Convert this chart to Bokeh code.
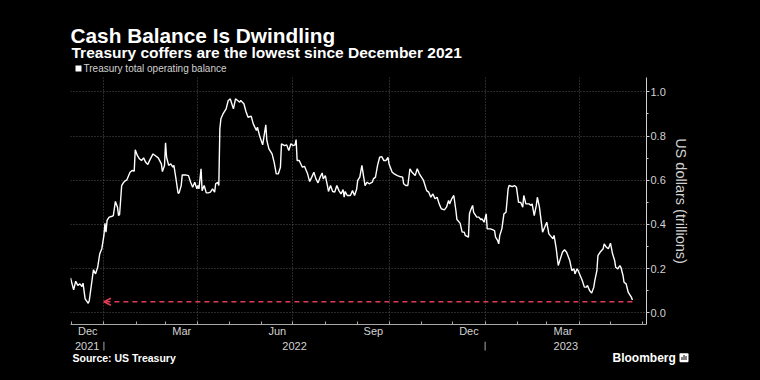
import numpy as np
import pandas as pd
from bokeh.plotting import figure
from bokeh.core.properties import value
from bokeh.models import (ColumnDataSource, Range1d, FixedTicker, SingleIntervalTicker,
                          Label, Arrow, OpenHead, BoxAnnotation, CustomJSTickFormatter,
                          PrintfTickFormatter, Grid)
from bokeh.embed import file_html
from bokeh.resources import INLINE

TITLE = "Cash Balance Is Dwindling"
SUBTITLE = "Treasury coffers are the lowest since December 2021"
SERIES_NAME = "Treasury total operating balance"
Y_AXIS_LABEL = "US dollars (trillions)"
SOURCE = "Source: US Treasury"
BRAND = "Bloomberg"

DATES = [
    "2021-11-30", "2021-12-03", "2021-12-05", "2021-12-07", "2021-12-09", "2021-12-11", "2021-12-12",
    "2021-12-14", "2021-12-17", "2021-12-18", "2021-12-21", "2021-12-22", "2021-12-24", "2021-12-26",
    "2021-12-28", "2021-12-30", "2022-01-01", "2022-01-02", "2022-01-03", "2022-01-04", "2022-01-06",
    "2022-01-09", "2022-01-10", "2022-01-12", "2022-01-14", "2022-01-15", "2022-01-16", "2022-01-18",
    "2022-01-20", "2022-01-21", "2022-01-23", "2022-01-26", "2022-01-28", "2022-01-30", "2022-01-31",
    "2022-02-02", "2022-02-04", "2022-02-06", "2022-02-08", "2022-02-10", "2022-02-12", "2022-02-14",
    "2022-02-17", "2022-02-19", "2022-02-22", "2022-02-25", "2022-02-26", "2022-02-28", "2022-03-01",
    "2022-03-02", "2022-03-04", "2022-03-06", "2022-03-08", "2022-03-09", "2022-03-11", "2022-03-13",
    "2022-03-14", "2022-03-16", "2022-03-17", "2022-03-20", "2022-03-23", "2022-03-25", "2022-03-27",
    "2022-03-29", "2022-03-31", "2022-04-01", "2022-04-02", "2022-04-04", "2022-04-05", "2022-04-07",
    "2022-04-09", "2022-04-11", "2022-04-13", "2022-04-15", "2022-04-17", "2022-04-18", "2022-04-20",
    "2022-04-21", "2022-04-22", "2022-04-23", "2022-04-25", "2022-04-28", "2022-04-30", "2022-05-02",
    "2022-05-03", "2022-05-05", "2022-05-07", "2022-05-09", "2022-05-11", "2022-05-12", "2022-05-15",
    "2022-05-17", "2022-05-19", "2022-05-22", "2022-05-24", "2022-05-27", "2022-05-28", "2022-05-30",
    "2022-06-02", "2022-06-05", "2022-06-06", "2022-06-08", "2022-06-11", "2022-06-13", "2022-06-15",
    "2022-06-17", "2022-06-19", "2022-06-20", "2022-06-23", "2022-06-25", "2022-06-27", "2022-06-29",
    "2022-07-01", "2022-07-03", "2022-07-04", "2022-07-05", "2022-07-07", "2022-07-10", "2022-07-12",
    "2022-07-15", "2022-07-17", "2022-07-19", "2022-07-21", "2022-07-23", "2022-07-25", "2022-07-27",
    "2022-07-29", "2022-07-30", "2022-08-01", "2022-08-03", "2022-08-04", "2022-08-06", "2022-08-08",
    "2022-08-10", "2022-08-12", "2022-08-14", "2022-08-16", "2022-08-18", "2022-08-19", "2022-08-20",
    "2022-08-22", "2022-08-25", "2022-08-27", "2022-08-29", "2022-08-31", "2022-09-01", "2022-09-03",
    "2022-09-05", "2022-09-07", "2022-09-08", "2022-09-10", "2022-09-12", "2022-09-15", "2022-09-16",
    "2022-09-18", "2022-09-20", "2022-09-22", "2022-09-24", "2022-09-26", "2022-09-28", "2022-09-30",
    "2022-10-01", "2022-10-04", "2022-10-06", "2022-10-09", "2022-10-11", "2022-10-14", "2022-10-15",
    "2022-10-17", "2022-10-19", "2022-10-21", "2022-10-23", "2022-10-26", "2022-10-28", "2022-10-30",
    "2022-11-01", "2022-11-03", "2022-11-06", "2022-11-08", "2022-11-10", "2022-11-12", "2022-11-14",
    "2022-11-16", "2022-11-18", "2022-11-20", "2022-11-23", "2022-11-25", "2022-11-27", "2022-11-28",
    "2022-11-30", "2022-12-02", "2022-12-04", "2022-12-05", "2022-12-08", "2022-12-10", "2022-12-12",
    "2022-12-13", "2022-12-16", "2022-12-17", "2022-12-18", "2022-12-20", "2022-12-21", "2022-12-24",
    "2022-12-26", "2022-12-28", "2022-12-29", "2022-12-31", "2023-01-02", "2023-01-03", "2023-01-06",
    "2023-01-08", "2023-01-10", "2023-01-11", "2023-01-13", "2023-01-14", "2023-01-15", "2023-01-17",
    "2023-01-19", "2023-01-21", "2023-01-23", "2023-01-24", "2023-01-27", "2023-01-29", "2023-01-31",
    "2023-02-02", "2023-02-04", "2023-02-06", "2023-02-07", "2023-02-09", "2023-02-12", "2023-02-14",
    "2023-02-15", "2023-02-17", "2023-02-19", "2023-02-20", "2023-02-22", "2023-02-23", "2023-02-25",
    "2023-02-27", "2023-03-01", "2023-03-03", "2023-03-05", "2023-03-07", "2023-03-08", "2023-03-10",
    "2023-03-12", "2023-03-14", "2023-03-16", "2023-03-18", "2023-03-20", "2023-03-23", "2023-03-25",
    "2023-03-27", "2023-03-28", "2023-03-30", "2023-03-31", "2023-04-02", "2023-04-04", "2023-04-06",
    "2023-04-08", "2023-04-09", "2023-04-11", "2023-04-13", "2023-04-15", "2023-04-16", "2023-04-18",
    "2023-04-19", "2023-04-21", "2023-04-24", "2023-04-25", "2023-04-27", "2023-04-29", "2023-05-01",
    "2023-05-03", "2023-05-05", "2023-05-06", "2023-05-08", "2023-05-10", "2023-05-11", "2023-05-13",
    "2023-05-14", "2023-05-16", "2023-05-18", "2023-05-19", "2023-05-21", "2023-05-22",
]

BALANCE = [
    0.158, 0.104, 0.143, 0.124, 0.131, 0.119, 0.134,
    0.063, 0.043, 0.056, 0.161, 0.195, 0.176, 0.206,
    0.267, 0.290, 0.350, 0.405, 0.365, 0.418, 0.433,
    0.437, 0.440, 0.504, 0.478, 0.440, 0.445, 0.576,
    0.591, 0.596, 0.602, 0.636, 0.644, 0.641, 0.738,
    0.712, 0.697, 0.689, 0.701, 0.681, 0.671, 0.692,
    0.719, 0.712, 0.701, 0.674, 0.639, 0.667, 0.769,
    0.704, 0.667, 0.674, 0.659, 0.667, 0.606, 0.541,
    0.543, 0.576, 0.624, 0.624, 0.621, 0.591, 0.568,
    0.591, 0.561, 0.576, 0.561, 0.652, 0.553, 0.576,
    0.543, 0.543, 0.546, 0.561, 0.546, 0.584, 0.591,
    0.576, 0.833, 0.878, 0.900, 0.923, 0.961, 0.968,
    0.953, 0.923, 0.968, 0.961, 0.953, 0.961, 0.946,
    0.911, 0.885, 0.890, 0.855, 0.825, 0.840, 0.802,
    0.760, 0.851, 0.780, 0.742, 0.719, 0.681, 0.629,
    0.629, 0.659, 0.765, 0.757, 0.760, 0.734, 0.765,
    0.757, 0.760, 0.784, 0.689, 0.689, 0.659, 0.663,
    0.629, 0.594, 0.614, 0.636, 0.606, 0.588, 0.614,
    0.633, 0.606, 0.621, 0.576, 0.549, 0.576, 0.549,
    0.546, 0.576, 0.553, 0.538, 0.558, 0.523, 0.549,
    0.531, 0.531, 0.553, 0.531, 0.560, 0.599, 0.614,
    0.667, 0.606, 0.576, 0.591, 0.584, 0.591, 0.606,
    0.614, 0.667, 0.704, 0.707, 0.689, 0.689, 0.704,
    0.674, 0.636, 0.629, 0.621, 0.617, 0.614, 0.584,
    0.576, 0.576, 0.652, 0.636, 0.621, 0.652, 0.629,
    0.614, 0.599, 0.553, 0.546, 0.523, 0.538, 0.516,
    0.523, 0.493, 0.471, 0.466, 0.478, 0.508, 0.493,
    0.516, 0.531, 0.463, 0.422, 0.406, 0.365, 0.365,
    0.350, 0.342, 0.448, 0.463, 0.486, 0.455, 0.433,
    0.433, 0.421, 0.425, 0.410, 0.448, 0.380, 0.380,
    0.376, 0.372, 0.342, 0.327, 0.312, 0.350, 0.380,
    0.448, 0.455, 0.561, 0.576, 0.571, 0.576, 0.568,
    0.500, 0.500, 0.478, 0.531, 0.493, 0.493, 0.486,
    0.493, 0.440, 0.486, 0.523, 0.478, 0.440, 0.365,
    0.387, 0.410, 0.357, 0.346, 0.335, 0.350, 0.293,
    0.214, 0.244, 0.274, 0.285, 0.274, 0.237, 0.191,
    0.199, 0.176, 0.199, 0.191, 0.169, 0.146, 0.116,
    0.116, 0.124, 0.101, 0.089, 0.116, 0.146, 0.191,
    0.259, 0.274, 0.290, 0.312, 0.297, 0.290, 0.315,
    0.267, 0.237, 0.206, 0.199, 0.214, 0.206, 0.169,
    0.138, 0.131, 0.093, 0.086, 0.071, 0.058,
]

X_TICK_MONTHS = ["2021-12", "2022-03", "2022-06", "2022-09", "2022-12", "2023-03"]
X_TICK_LABELS = ["Dec", "Mar", "Jun", "Sep", "Dec", "Mar"]
YEAR_LABELS = ["2021", "2022", "2023"]

REF_LEVEL = 0.05
REF_FROM = "2023-05-22"
REF_TO = "2022-01-01"

# ---------------------------------------------------------------- style / layout
FONT = "Liberation Sans"
BG = "#000000"
AXIS_COLOR = "#a8a8a8"
TEXT_COLOR = "#d2d2d2"
GRID_COLOR = "#555555"
RED = "#e23b55"
W = 760
HEAD_H, MAIN_H, FOOT_H = 77, 264, 39
LEFT, RIGHT, BOTTOM = 70, 114, 17


def ms(t):
    return float(pd.Timestamp(t).value / 1e6)


def blank(height, x_range, y_range):
    f = figure(width=W, height=height, output_backend="svg", toolbar_location=None,
               background_fill_color=BG, border_fill_color=BG, outline_line_color=None,
               min_border=0, x_range=x_range, y_range=y_range,
               x_axis_location=None, y_axis_location=None)
    f.renderers = [r for r in f.renderers if not isinstance(r, Grid)]
    f.center = [r for r in f.center if not isinstance(r, Grid)]
    return f


dates = pd.to_datetime(DATES)
src = ColumnDataSource(data=dict(date=dates, balance=BALANCE))

x_start = dates[0]
x_end = dates[-1] + pd.Timedelta(days=13.5)

# ================================================================ main chart
p = figure(width=W, height=MAIN_H, x_axis_type="datetime", y_axis_location="right",
           output_backend="svg", toolbar_location=None,
           background_fill_color=BG, border_fill_color=BG, outline_line_color=None,
           min_border_left=LEFT, min_border_right=RIGHT, min_border_top=0,
           min_border_bottom=BOTTOM,
           x_range=Range1d(x_start, x_end), y_range=Range1d(-0.053, 1.065))

month_mid = []
for m in X_TICK_MONTHS:
    s = pd.Timestamp(m + "-01")
    e = s + pd.offsets.MonthBegin(1)
    month_mid.append(ms(s + (e - s) / 2))
month_starts = [ms(t) for t in pd.date_range(x_start.normalize(), x_end, freq="MS")]
quarter_starts = [ms(t) for t in pd.date_range(x_start.normalize(), x_end, freq="QS")]
year_starts = [ms(t) for t in pd.date_range(x_start.normalize(), x_end, freq="YS")]

xax = p.xaxis[0]
xax.ticker = FixedTicker(ticks=month_mid, minor_ticks=month_starts)
xax.formatter = CustomJSTickFormatter(args=dict(tpos=month_mid, tlabels=X_TICK_LABELS), code="""
    let best = -1, bd = Infinity;
    for (let i = 0; i < tpos.length; i++) {
        const d = Math.abs(tpos[i] - tick);
        if (d < bd) { bd = d; best = i; }
    }
    return bd < 86400000 ? tlabels[best] : "";
""")
xax.axis_line_color = AXIS_COLOR
xax.major_tick_line_color = None
xax.major_tick_in = 0
xax.major_tick_out = 0
xax.minor_tick_line_color = AXIS_COLOR
xax.minor_tick_in = 3
xax.minor_tick_out = 0
xax.major_label_text_font = FONT
xax.major_label_text_font_size = "11px"
xax.major_label_text_color = TEXT_COLOR
xax.major_label_standoff = 0
xax.axis_label_standoff = 0

p.xgrid.ticker = FixedTicker(ticks=quarter_starts)
p.xgrid.grid_line_color = GRID_COLOR
p.xgrid.grid_line_dash = "1 2"

yax = p.yaxis[0]
yax.ticker = SingleIntervalTicker(interval=0.2, num_minor_ticks=2)
yax.formatter = PrintfTickFormatter(format="%.1f")
yax.axis_line_color = "#cfcfcf"
yax.major_tick_line_color = "#cfcfcf"
yax.major_tick_in = 0
yax.major_tick_out = 3
yax.minor_tick_line_color = "#cfcfcf"
yax.minor_tick_in = 0
yax.minor_tick_out = 2
yax.major_label_text_font = FONT
yax.major_label_text_font_size = "11px"
yax.major_label_text_color = TEXT_COLOR
yax.major_label_standoff = 1
yax.axis_label = Y_AXIS_LABEL
yax.axis_label_text_font = FONT
yax.axis_label_text_font_size = "14.5px"
yax.axis_label_text_font_style = "normal"
yax.axis_label_text_color = TEXT_COLOR
yax.axis_label_standoff = 4

p.ygrid.grid_line_color = GRID_COLOR
p.ygrid.grid_line_dash = "1 2"

p.line(x="date", y="balance", source=src, line_color="white", line_width=1.4)

p.add_layout(Arrow(x_start=ms(REF_FROM), y_start=REF_LEVEL, x_end=ms(REF_TO), y_end=REF_LEVEL,
                   line_color=RED, line_width=1.6, line_dash="5 4",
                   end=OpenHead(size=7, line_color=RED, line_width=1.6)))

# ================================================================ header (y grows downward)
head = blank(HEAD_H, Range1d(0, W), Range1d(HEAD_H, 0))
head.add_layout(Label(x=70, y=35, x_units="screen", text=TITLE,
                      text_font=FONT, text_font_size="20.8px", text_font_style="bold",
                      text_color="white", text_baseline="alphabetic"))
head.add_layout(Label(x=71, y=51.7, x_units="screen", text=SUBTITLE,
                      text_font=FONT, text_font_size="15.5px", text_font_style="bold",
                      text_color="white", text_baseline="alphabetic"))
head.add_layout(BoxAnnotation(left=75, right=81, top=65, bottom=71,
                              left_units="screen", right_units="screen",
                              fill_color="white", fill_alpha=1.0, line_color=None))
head.add_layout(Label(x=83, y=68, x_units="screen", text=SERIES_NAME,
                      text_font=FONT, text_font_size="10px", text_color=TEXT_COLOR,
                      text_baseline="middle"))

# ================================================================ footer (years + source), y grows downward from y=341
frame_w = W - LEFT - RIGHT
mpp = (ms(x_end) - ms(x_start)) / frame_w
foot = blank(FOOT_H, Range1d(ms(x_start) - LEFT * mpp, ms(x_end) + RIGHT * mpp),
             Range1d(FOOT_H, 0))

year_mid = []
for lab in YEAR_LABELS:
    ys = pd.Timestamp(lab + "-01-01")
    ye = ys + pd.offsets.YearBegin(1)
    a = max(ys, x_start)
    b = min(ye, x_end)
    year_mid.append(ms(a + (b - a) / 2))
foot.text(x=year_mid, y=[4] * len(year_mid), text=YEAR_LABELS, text_align="center",
          text_baseline="middle", text_font=value(FONT), text_font_size="11px",
          text_color=TEXT_COLOR)
foot.segment(x0=year_starts, y0=[0] * len(year_starts), x1=year_starts,
             y1=[9] * len(year_starts), line_color=AXIS_COLOR, line_width=1)

foot.add_layout(Label(x=72, y=16.5, x_units="screen", text=SOURCE,
                      text_font=FONT, text_font_size="10.5px", text_font_style="bold",
                      text_color="white", text_baseline="middle"))
foot.add_layout(Label(x=612, y=16, x_units="screen", text=BRAND,
                      text_font=FONT, text_font_size="12px", text_font_style="bold",
                      text_color="white", text_baseline="middle"))
foot.add_layout(BoxAnnotation(left=679, right=688, top=11.7, bottom=20.7,
                              left_units="screen", right_units="screen",
                              fill_color="white", fill_alpha=1.0, line_color=None,
                              border_radius=1))
for k, h in enumerate([3, 5, 4]):
    foot.add_layout(BoxAnnotation(left=681 + 2 * k, right=682 + 2 * k, top=18.5 - h, bottom=18.5,
                                  left_units="screen", right_units="screen",
                                  fill_color="black", fill_alpha=1.0, line_color=None))

html = file_html([head, p, foot], INLINE)
html = html.replace("</head>", "<style>html, body { background: #000000 !important; }</style></head>", 1)
open("out.html", "w").write(html)
